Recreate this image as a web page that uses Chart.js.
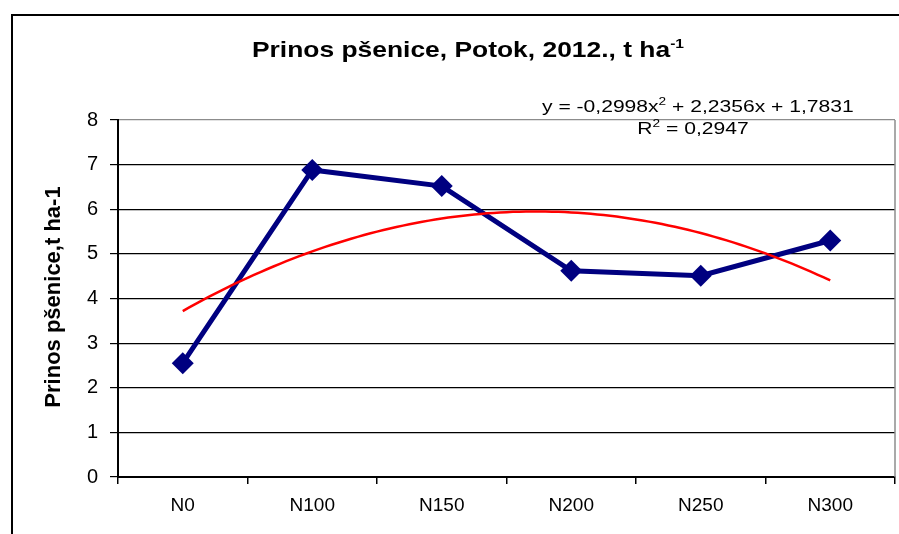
<!DOCTYPE html>
<html>
<head>
<meta charset="utf-8">
<style>
  html, body { margin: 0; padding: 0; background: #fff; }
  canvas { display: block; }
</style>
</head>
<body>
<canvas id="prinosChart" width="899" height="534"></canvas>
<script src="https://cdn.jsdelivr.net/npm/chart.js@4.4.1/dist/chart.umd.min.js"></script>
<script>
// tretmani dušikom i prosječni prinos (t/ha)
const tretmani = ['N0', 'N100', 'N150', 'N200', 'N250', 'N300'];
const prinos = [2.55, 6.88, 6.52, 4.62, 4.51, 5.30];
// polinomni trend 2. reda: a*x^2 + b*x + c, x = redni broj tretmana
const trendKoef = [-0.2998, 2.2356, 1.7831];
const r2 = 0.2947;
const yTicks = [0, 1, 2, 3, 4, 5, 6, 7, 8];

const FONT = "'Liberation Sans', Arial, sans-serif";
Chart.defaults.font.family = FONT;
Chart.defaults.color = '#000';

// krivulja trenda iz koeficijenata
const trend = [];
for (let i = 0; i <= (tretmani.length - 1) * 20; i++) {
  const x = 1 + i / 20;
  trend.push({ x: x, y: trendKoef[0] * x * x + trendKoef[1] * x + trendKoef[2] });
}

const fmt = v => v.toFixed(4).replace('.', ',');
const eqParts = [
  ['y = ' + fmt(trendKoef[0]) + 'x', false], ['2', true],
  [' + ' + fmt(trendKoef[1]) + 'x + ' + fmt(trendKoef[2]), false]
];
const r2Parts = [['R', false], ['2', true], [' = ' + fmt(r2), false]];
const naslov = [['Prinos pšenice, Potok, 2012., t ha', false], ['-1', true]];

// crta tekst s eksponentima, razvučen vodoravno
function partsWidth(ctx, parts, size, sup, bold) {
  let w = 0;
  for (const [t, s] of parts) {
    ctx.font = (bold ? 'bold ' : '') + (s ? sup : size) + 'px ' + FONT;
    w += ctx.measureText(t).width;
  }
  return w;
}
function drawParts(ctx, parts, x, y, size, sup, rise, bold, sx, align) {
  const w = partsWidth(ctx, parts, size, sup, bold);
  ctx.save();
  ctx.translate(x, y);
  ctx.scale(sx, 1);
  let cx = align === 'center' ? -w / 2 : 0;
  ctx.textAlign = 'left';
  ctx.textBaseline = 'alphabetic';
  ctx.fillStyle = '#000';
  for (const [t, s] of parts) {
    ctx.font = (bold ? 'bold ' : '') + (s ? sup : size) + 'px ' + FONT;
    ctx.fillText(t, cx, s ? -rise : 0);
    cx += ctx.measureText(t).width;
  }
  ctx.restore();
}

const okvir = {
  id: 'okvir',
  beforeDatasetsDraw(chart) {
    const { ctx, chartArea: a } = chart;
    ctx.save();
    ctx.strokeStyle = '#8c8c8c';
    ctx.lineWidth = 1.5;
    ctx.beginPath();
    ctx.moveTo(a.right, a.top);
    ctx.lineTo(a.right, a.bottom);
    ctx.stroke();
    ctx.restore();
  },
  afterDraw(chart) {
    const ctx = chart.ctx;
    ctx.save();
    ctx.strokeStyle = '#000';
    ctx.lineWidth = 2;
    ctx.strokeRect(12, 15, 1000, 1000);
    ctx.restore();

    drawParts(ctx, naslov, 468, 57, 22, 13, 9, true, 1.2, 'center');
    drawParts(ctx, eqParts, 542, 112, 17, 11, 7, false, 1.24, 'left');
    drawParts(ctx, r2Parts, 693, 134, 17, 11, 7, false, 1.24, 'center');

    ctx.save();
    ctx.translate(54, 297);
    ctx.rotate(-Math.PI / 2);
    ctx.font = 'bold 22px ' + FONT;
    ctx.textAlign = 'center';
    ctx.textBaseline = 'middle';
    ctx.fillStyle = '#000';
    ctx.fillText('Prinos pšenice,t ha-1', 0, 0);
    ctx.restore();
  }
};

new Chart(document.getElementById('prinosChart'), {
  type: 'line',
  data: {
    labels: tretmani,
    datasets: [
      {
        data: prinos,
        borderColor: '#000080',
        backgroundColor: '#000080',
        borderWidth: 5,
        pointStyle: 'rectRot',
        pointRadius: 11,
        pointBorderWidth: 0,
        pointBackgroundColor: '#000080',
        tension: 0,
        order: 1
      },
      {
        data: trend,
        xAxisID: 'xt',
        borderColor: '#ff0000',
        borderWidth: 2.5,
        pointRadius: 0,
        tension: 0,
        order: 0
      }
    ]
  },
  options: {
    responsive: false,
    animation: false,
    layout: { autoPadding: false, padding: { top: 120, right: 4, bottom: 0, left: 0 } },
    plugins: {
      legend: { display: false },
      tooltip: { enabled: false },
      title: { display: false }
    },
    scales: {
      x: {
        type: 'category',
        offset: true,
        grid: {
          offset: true,
          drawOnChartArea: false,
          color: '#000',
          tickLength: 7,
          lineWidth: 1.5
        },
        border: { color: '#000', width: 2 },
        ticks: { font: { size: 19 }, padding: 10, color: '#000', maxRotation: 0 },
        afterFit: s => { s.height = 57; }
      },
      xt: {
        type: 'linear',
        display: false,
        min: 0.5,
        max: tretmani.length + 0.5
      },
      y: {
        min: 0,
        max: 8,
        afterBuildTicks: s => { s.ticks = yTicks.map(v => ({ value: v })); },
        grid: {
          color: c => (c.tick && c.tick.value === 8 ? '#8c8c8c' : '#000'),
          tickColor: '#000',
          tickLength: 8,
          lineWidth: 1.2
        },
        border: { color: '#000', width: 2 },
        ticks: { font: { size: 20 }, padding: 12, color: '#000' },
        afterFit: s => { s.width = 118; }
      }
    }
  },
  plugins: [okvir]
});
</script>
</body>
</html>
